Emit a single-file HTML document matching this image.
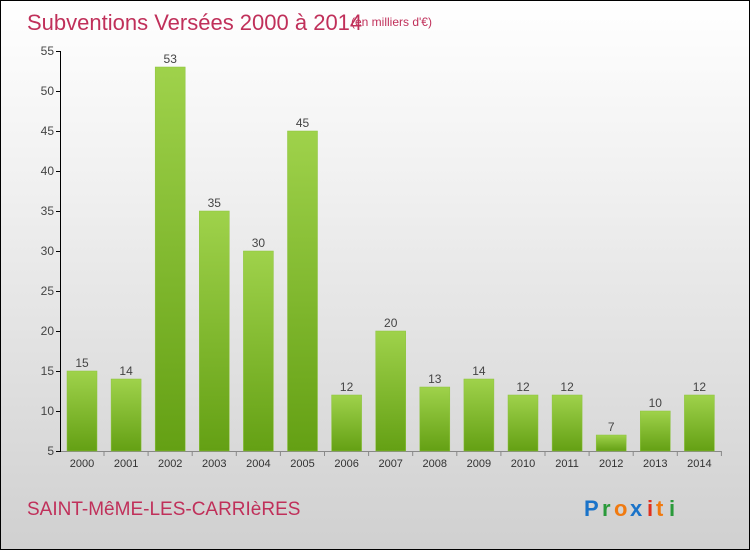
<!DOCTYPE html>
<html><head><meta charset="utf-8"><style>
body{margin:0}
#c{width:748px;height:548px;border:1px solid #000;position:relative;background:linear-gradient(#ffffff,#f2f2f2 30%,#d0d0d0);font-family:"Liberation Sans",sans-serif;overflow:hidden}
</style></head><body>
<div id="c">
<svg width="748" height="548">
<defs><linearGradient id="g" x1="0" y1="0" x2="0" y2="1"><stop offset="0" stop-color="#9fd24b"/><stop offset="1" stop-color="#64a014"/></linearGradient></defs>
<text x="26" y="29" font-size="22" fill="#c0305a">Subventions Versées 2000 à 2014</text>
<text x="350" y="25" font-size="12" fill="#c0305a">(en milliers d'€)</text>
<text x="26" y="514" font-size="19" fill="#c0305a">SAINT-MêME-LES-CARRIèRES</text>
<g font-size="22" font-weight="bold">
<text x="583" y="515" fill="#1a73c9">P</text><text x="601" y="515" fill="#2a9a3a">r</text><text x="613" y="515" fill="#f07a10">o</text><text x="629" y="515" fill="#1a73c9">x</text><text x="646" y="515" fill="#e0301e">i</text><text x="655" y="515" fill="#f07a10">t</text><text x="668" y="515" fill="#2a9a3a">i</text></g>
<g id="plot"></g>
</svg></div>
<script>
const years=["2000","2001","2002","2003","2004","2005","2006","2007","2008","2009","2010","2011","2012","2013","2014"];
const values=[15,14,53,35,30,45,12,20,13,14,12,12,7,10,12];
const yTicks=[5,10,15,20,25,30,35,40,45,50,55];
const ns="http://www.w3.org/2000/svg",p=document.getElementById('plot');
const y=v=>450-(v-5)*8, x=i=>81+i*44.1;
function mk(t,a){const e=document.createElementNS(ns,t);for(const k in a)e.setAttribute(k,a[k]);p.appendChild(e);return e;}
let ax=mk('line',{x1:59.5,y1:50,x2:59.5,y2:450,stroke:'#000'});

let bx=mk('line',{x1:59,y1:450.5,x2:720,y2:450.5,stroke:'#888'});

yTicks.forEach(v=>{let l=mk('line',{x1:55,y1:y(v)+.5,x2:60,y2:y(v)+.5,stroke:'#000'});

let t=mk('text',{x:53,y:y(v)+4,'font-size':12,fill:'#444','text-anchor':'end'});t.textContent=v;
});
years.forEach((yr,i)=>{const v=values[i];
let r=mk('rect',{x:x(i)-15,y:y(v),width:30,height:450-y(v),fill:'url(#g)',stroke:'#8cc43c','stroke-width':.5});

let t=mk('text',{x:x(i),y:y(v)-4,'font-size':12,fill:'#444','text-anchor':'middle'});t.textContent=v;

let k=mk('line',{x1:x(i)+22,y1:450,x2:x(i)+22,y2:455,stroke:'#888'});

let xl=mk('text',{x:x(i),y:466,'font-size':11,fill:'#333','text-anchor':'middle'});xl.textContent=yr;
});
</script></body></html>
